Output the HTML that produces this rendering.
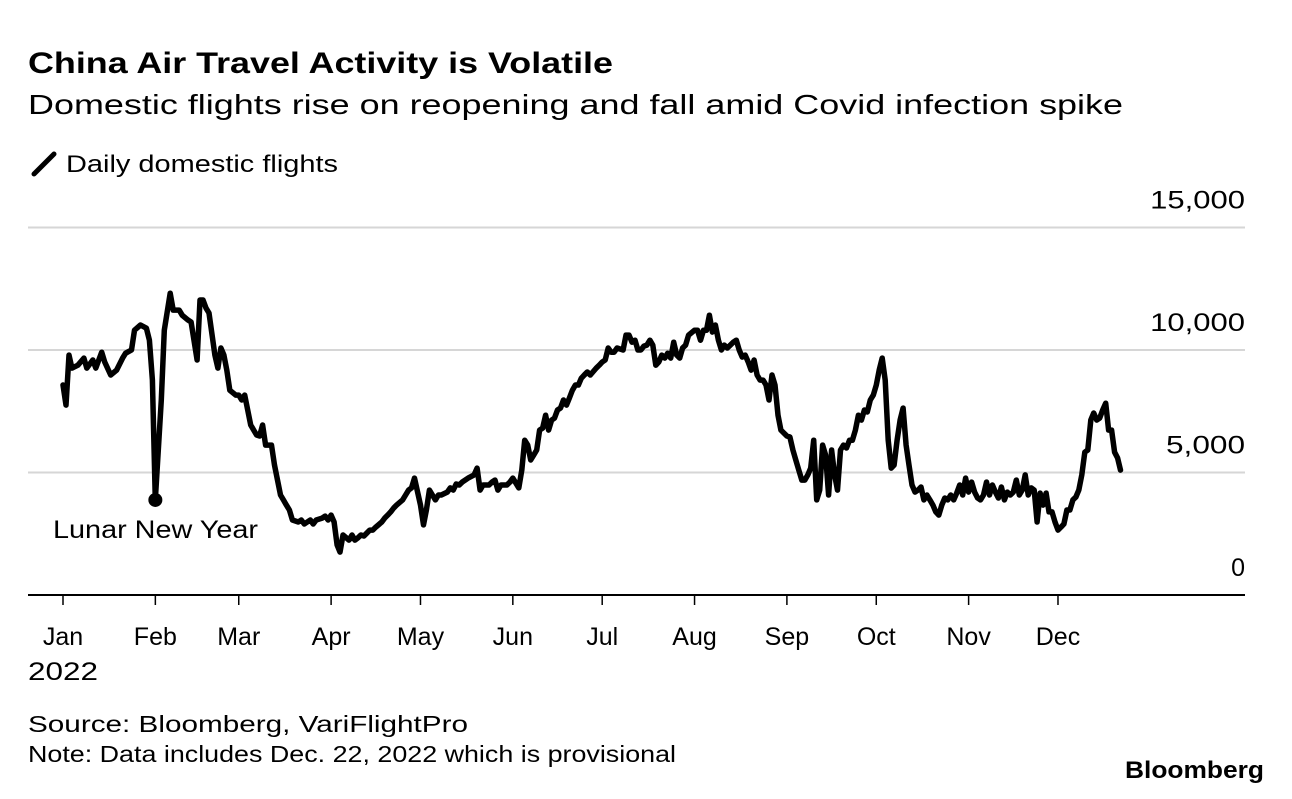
<!DOCTYPE html>
<html><head><meta charset="utf-8">
<style>
body{margin:0;background:#fff;width:1292px;height:794px;overflow:hidden;font-family:"Liberation Sans",sans-serif;}
svg text{font-family:"Liberation Sans",sans-serif;}
</style></head>
<body>
<svg id="chart" width="1292" height="794" xmlns="http://www.w3.org/2000/svg">
<text x="28" y="73" font-size="30" font-weight="bold" fill="#000" textLength="585" lengthAdjust="spacingAndGlyphs">China Air Travel Activity is Volatile</text>
<text x="28" y="114" font-size="28" fill="#000" textLength="1095" lengthAdjust="spacingAndGlyphs">Domestic flights rise on reopening and fall amid Covid infection spike</text>
<line x1="34" y1="174" x2="54" y2="154" stroke="#000" stroke-width="5" stroke-linecap="round"/>
<text x="66" y="172" font-size="24" fill="#000" textLength="272" lengthAdjust="spacingAndGlyphs">Daily domestic flights</text>
<g id="grid"></g>
<g id="xaxis"></g>
<g id="series"></g>
<text x="28" y="732" font-size="23" fill="#000" textLength="440" lengthAdjust="spacingAndGlyphs">Source: Bloomberg, VariFlightPro</text>
<text x="28" y="762" font-size="23" fill="#000" textLength="648" lengthAdjust="spacingAndGlyphs">Note: Data includes Dec. 22, 2022 which is provisional</text>
<text x="1125" y="778" font-size="24" font-weight="bold" fill="#000" textLength="139" lengthAdjust="spacingAndGlyphs">Bloomberg</text>
</svg>
<script>
const yTicks=[0,5000,10000,15000];
const yTickLabels=["0","5,000","10,000","15,000"];
const monthStarts=[0,31,59,90,120,151,181,212,243,273,304,334];
const monthLabels=["Jan","Feb","Mar","Apr","May","Jun","Jul","Aug","Sep","Oct","Nov","Dec"];
const days=[0,1,2,3,5,7,8,10,11,13,14,16,18,20,21,23,24,26,28,29,30,31,33,34,36,37,39,40,42,43,45,46,47,48,49,51,52,53,54,55,56,58,59,60,61,62,63,64,65,66,67,68,70,71,72,73,74,75,76,77,79,80,81,82,83,84,85,87,88,89,90,91,92,93,94,96,97,98,99,100,101,102,103,104,105,107,108,109,110,111,112,114,115,116,117,118,120,121,122,123,124,125,126,127,129,130,131,132,133,134,135,136,138,139,140,141,142,143,144,145,146,147,149,150,151,153,154,155,156,157,158,159,160,161,162,163,164,165,166,167,168,169,170,171,172,173,174,175,176,177,179,180,181,182,183,184,185,186,188,189,190,191,192,193,194,195,196,197,198,199,200,201,202,203,204,205,206,207,208,209,210,212,213,214,215,216,217,218,219,220,221,222,223,224,225,226,227,228,229,230,231,232,233,234,235,236,237,238,239,240,241,242,243,244,245,246,247,248,249,250,251,252,253,254,255,256,257,258,259,260,261,262,263,264,265,266,267,268,269,270,271,272,273,274,275,276,277,278,279,280,281,282,283,284,285,286,287,288,289,290,291,292,293,294,295,296,297,298,299,300,301,302,303,304,305,306,307,308,309,310,311,312,313,314,315,316,317,318,319,320,321,322,323,324,325,326,327,328,329,330,331,332,333,334,335,336,337,338,339,340,341,342,343,344,345,346,347,348,349,350,351,352,353,354,355];
const flights=[8570,7750,9790,9260,9380,9670,9260,9590,9260,9910,9510,8980,9180,9670,9870,10000,10810,11020,10890,10400,8770,3880,7960,10810,12320,11630,11630,11420,11220,11140,9590,12040,12040,11710,11510,9790,9260,10080,9790,9180,8360,8160,8160,7960,8160,7550,6940,6730,6530,6490,6940,6120,6120,5300,4690,4080,3880,3670,3470,3060,2980,3060,2900,2980,3060,2900,3060,3140,3220,3060,3260,2980,2040,1750,2450,2240,2450,2240,2330,2450,2410,2530,2650,2650,2770,2980,3140,3260,3390,3550,3670,3880,4080,4280,4370,4770,3670,2860,3470,4280,4080,3880,4080,4080,4200,4370,4280,4530,4490,4610,4690,4770,4900,5180,4280,4490,4490,4490,4610,4690,4280,4490,4490,4610,4770,4370,5100,6320,6120,5510,5710,5920,6730,6810,7340,6730,7140,7220,7550,7630,7960,7750,8040,8360,8570,8570,8850,8980,9100,8980,9260,9380,9510,9590,10080,9910,9910,10080,10000,10610,10610,10320,10400,10000,10000,10160,10200,10400,10200,9380,9510,9790,9670,9870,9670,10320,9790,9670,10080,10200,10610,10810,10810,10400,10810,10810,11420,10730,11020,10400,10000,10200,10080,10200,10320,10400,10000,9710,9790,9510,9180,9590,8980,8770,8770,8570,7960,8980,8570,7340,6730,6610,6490,6450,5920,5510,5100,4690,4690,4900,5180,6320,3880,4280,6120,5710,4080,5920,4900,4280,5920,6120,6000,6320,6320,6730,7340,7140,7550,7470,7960,8160,8570,9180,9670,8770,6320,5180,5300,6320,7140,7630,6120,5300,4490,4200,4280,4410,3880,4080,3880,3670,3390,3260,3670,3960,3880,4080,3880,4160,4490,4080,4770,4200,4610,4200,3960,3880,4080,4610,4080,4490,4200,3960,4410,3880,4200,4080,4200,4690,4080,4280,4900,4080,4370,4280,2980,4160,3670,4160,3390,3390,2980,2650,2770,2900,3470,3470,3880,4000,4280,4900,5830,5920,7140,7430,7140,7220,7550,7830,6730,6730,5830,5590,5100,4900];
const annotationDay=31, annotationLabel="Lunar New Year";

const NS="http://www.w3.org/2000/svg";
const X0=63, PXD=2.979, Y0=595, PXV=0.0245;
const xs=d=>X0+d*PXD;
const ys=v=>Y0-v*PXV;
function mk(tag,attrs,parent,text){const e=document.createElementNS(NS,tag);for(const k in attrs)e.setAttribute(k,attrs[k]);if(text!==undefined)e.textContent=text;parent.appendChild(e);return e;}
const grid=document.getElementById('grid'),xa=document.getElementById('xaxis'),ser=document.getElementById('series');
yTicks.forEach((t,i)=>{
  if(i>0){const l=mk('line',{x1:28,x2:1245,y1:ys(t),y2:ys(t),stroke:'#d6d6d6','stroke-width':2},grid);
  
  }
  const lbl=yTickLabels[i];
  const tx=mk('text',{x:1245,y:ys(t)-19,'font-size':25,'text-anchor':'end',fill:'#000'},grid,lbl);
  if(lbl.length>1){tx.setAttribute('textLength',lbl.length*15.8);tx.setAttribute('lengthAdjust','spacingAndGlyphs');}
  
  
});
const base=mk('line',{x1:28,x2:1245,y1:Y0,y2:Y0,stroke:'#000','stroke-width':2},xa);


monthStarts.forEach((d,i)=>{
  const t=mk('line',{x1:xs(d),x2:xs(d),y1:Y0,y2:Y0+10,stroke:'#000','stroke-width':1.5},xa);
  
  
  const tx=mk('text',{x:xs(d),y:645,'font-size':25,'text-anchor':'middle',fill:'#000'},xa,monthLabels[i]);
  
  
});
const yr=mk('text',{x:28,y:680,'font-size':25,fill:'#000',textLength:70,lengthAdjust:'spacingAndGlyphs'},xa,"2022");


const pts=days.map((d,i)=>xs(d).toFixed(1)+','+ys(flights[i]).toFixed(1)).join(' ');
const pl=mk('polyline',{points:pts,fill:'none',stroke:'#000','stroke-width':5.5,'stroke-linejoin':'round','stroke-linecap':'round'},ser);


const ai=days.indexOf(annotationDay);
const dot=mk('circle',{cx:xs(annotationDay),cy:ys(flights[ai]),r:7,fill:'#000'},ser);


const al=mk('text',{x:53,y:ys(flights[ai])+38,'font-size':25,fill:'#000',textLength:205,lengthAdjust:'spacingAndGlyphs'},ser,annotationLabel);


</script>
</body></html>
